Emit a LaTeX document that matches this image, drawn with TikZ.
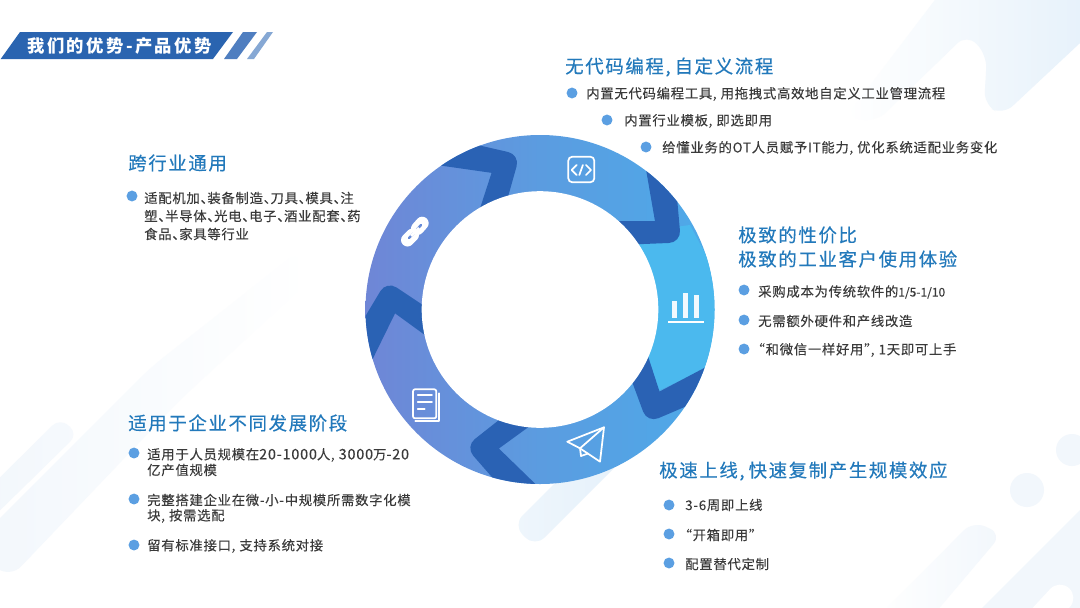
\documentclass[tikz,border=0pt]{standalone}
\usepackage{fontspec}
\setmainfont{Noto Sans CJK SC}
\newfontfamily\bodyfont[LetterSpace=5.6,FakeBold=0.15]{Noto Sans CJK SC}
\newfontfamily\numfont[FakeBold=0.15]{Noto Sans CJK SC}
\newfontfamily\ttlfont[LetterSpace=9,FakeBold=0.35]{Noto Sans CJK SC}
\newfontfamily\bannerfont[LetterSpace=14]{Noto Sans CJK SC}
\newcommand\cma{,\kern 3pt}
\newcommand\dun{、\kern-4.9pt}
\newcommand\lqm{\kern-5pt“}
\newcommand\rqm{”\kern-5pt}
\definecolor{ringA}{HTML}{6F86D6}
\definecolor{ringB}{HTML}{5B9CE0}
\definecolor{ringC}{HTML}{4DAAE9}
\definecolor{ringD}{HTML}{4BB9EE}
\definecolor{chev}{HTML}{2A62B4}
\definecolor{ttlblue}{HTML}{2279BB}
\definecolor{bodytxt}{HTML}{3A3A3A}
\definecolor{bulblue}{HTML}{5B9FE2}
\definecolor{pale}{HTML}{E4F0FA}
\definecolor{paleB}{HTML}{F2F7FC}
\definecolor{banA}{HTML}{2A64B0}
\definecolor{banB}{HTML}{4F7EC0}
\definecolor{banC}{HTML}{86A8D4}
\pgfdeclarehorizontalshading{ringgrad}{100bp}{color(0bp)=(ringA); color(25bp)=(ringA); color(50bp)=(ringB); color(75bp)=(ringC); color(100bp)=(ringC)}
\tikzset{
  body/.style={anchor=west,inner sep=0pt,yshift=-.75pt,text=bodytxt,font=\bodyfont\fontsize{10pt}{12pt}\selectfont},
  ttl/.style={anchor=west,inner sep=0pt,yshift=-.75pt,text=ttlblue,font=\ttlfont\fontsize{13.8pt}{16pt}\selectfont},
  bul/.style={circle,fill=bulblue,minimum size=8.2pt,inner sep=0pt},
  icon/.style={draw=white,line width=1.3pt,line join=round,line cap=round},
}
\begin{document}
\begin{tikzpicture}[x=.75pt,y=-.75pt]
\useasboundingbox (0,0) rectangle (1080,607);
\fill[white] (0,0) rectangle (1080,607);
\begin{scope}
\clip (0,0) rectangle (1080,607);
% top right
\shade[left color=white,right color=pale,rounded corners=10pt] (846,117) -- (950,-20) -- (1110,-20) -- (1110,15) -- (1003,115) -- (984,105) -- (987,55) -- (967,34) -- (876,122) -- cycle;
% bottom left
\shade[left color=paleB,right color=white,rounded corners=12pt] (-30,548) -- (150,368) -- (300,250) -- (310,280) -- (180,400) -- (10,578) -- cycle;
\shade[left color=paleB,right color=paleB!70!white,rounded corners=8pt] (-20,497) -- (60,418) -- (78,434) -- (-20,530) -- cycle;
% below the ring
\shade[left color=white!40!pale,right color=pale,rounded corners=10pt] (513,525) -- (613,425) -- (635,447) -- (535,547) -- cycle;
% bottom right
\shade[left color=white,right color=paleB,rounded corners=10pt] (870,625) -- (973,521) -- (1002,534) -- (925,625) -- cycle;
\fill[paleB] (975,615) -- (1090,500) -- (1090,615) -- cycle;
\draw[white,line width=20pt,line cap=round] (1035,625) -- (1060,598);
\fill[paleB] (1027,490) circle[radius=17];
\fill[paleB] (1072,450) circle[radius=16];
\end{scope}
% banner
\fill[banA] (0.7,59) -- (20,32) -- (233,32) -- (213,59) -- cycle;
\fill[banB] (224,59) -- (243,32) -- (257,32) -- (237,59) -- cycle;
\fill[banC] (247,59) -- (267,32) -- (273,32) -- (254,59) -- cycle;
\node[anchor=west,inner sep=0pt,text=white,font=\bannerfont\bfseries\fontsize{13pt}{14pt}\selectfont] (banner) at (27,46) {我们的优势-产品优势};
% ring
\shade[shading=ringgrad] (540,309.5) circle[radius=174.5];
\begin{scope}
\clip (540,309.5) circle[radius=174.5];
\fill[ringD] (615,235) -- (690,225) -- (730,300) -- (730,350) -- (702,370) -- (658,391) -- (648,362) -- (600,310) -- cycle;
\foreach \i in {0,...,4} {
  \begin{scope}[shift={(540,309.5)},rotate=-72*\i]
    \fill[chev] (115,-88.3) -- (103.7,-153.3) -- (133.3,-153.3) [rounded corners=9pt] -- (141,-67) -- (66,-64) [sharp corners] -- (66,-88.3) -- cycle;
  \end{scope}
}
\end{scope}
\fill[white] (540,309.5) circle[radius=118.3];
% code icon
\draw[icon,rounded corners=3pt] (568.3,156.7) rectangle (594.3,182.3);
\draw[icon] (576.7,165) -- (571.7,170) -- (576.7,175);
\draw[icon] (582.9,165) -- (579.3,175);
\draw[icon] (586,165) -- (591,170) -- (586,175);
% bars icon
\fill[white!92!ringD] (672.3,301) rectangle (677.3,318.3);
\fill[white!92!ringD] (683.3,293.3) rectangle (688.3,318.3);
\fill[white!92!ringD] (694.3,295) rectangle (699.3,318.3);
\draw[icon,line cap=butt] (668.3,321.7) -- (704,321.7);
% plane icon
\draw[icon] (567.3,441.7) -- (604,427.3) -- (600,461.7) -- (580,448.3) -- cycle;
\draw[icon] (604,427.3) -- (580,448.3) -- (581,456) -- (588,453.5);
% doc icon
\draw[icon,rounded corners=1.5pt] (413,389.3) rectangle (436.3,418.3);
\draw[icon] (438.9,393.3) -- (438.9,420.9) -- (415.3,420.9);
\draw[icon] (417.7,395) -- (432,395);
\draw[icon] (417.7,401.7) -- (432,401.7);
\draw[icon] (417.7,409) -- (424.7,409);
% link icon
\draw[white,line width=9.75pt,line cap=round] (407.5,240) -- (412.5,235);
\draw[white,line width=9.75pt,line cap=round] (417.5,228.5) -- (422.2,223.2);
\draw[ringA!70!ringB,line width=1.8pt,line cap=round] (409,238) -- (413.5,233.5);
\draw[ringA!70!ringB,line width=1.8pt,line cap=round] (417,229.5) -- (421,225);
\draw[white,line width=2pt] (411,236) -- (419,228);
% top list
\node[ttl] (t1) at (565,66) {无代码编程\cma 自定义流程};
\node[bul] (b11) at (572,93) {};
\node[body] (x11) at (586,93) {内置无代码编程工具\cma 用拖拽式高效地自定义工业管理流程};
\node[bul] (b12) at (607,120) {};
\node[body] (x12) at (624,120) {内置行业模板\cma 即选即用};
\node[bul] (b13) at (646,147) {};
\node[body] (x13) at (662,147) {给懂业务的OT人员赋予IT能力\cma 优化系统适配业务变化};
% right list
\node[ttl] (t2a) at (738,234) {极致的性价比};
\node[ttl] (t2b) at (738,258) {极致的工业客户使用体验};
\node[bul] (b21) at (744,290) {};
\node[body] (x21) at (758,291) {采购成本为传统软件的{\numfont\fontsize{9pt}{12pt}\selectfont 1/5-1/10}};
\node[bul] (b22) at (744,320) {};
\node[body] (x22) at (758,320) {无需额外硬件和产线改造};
\node[bul] (b23) at (744,349) {};
\node[body] (x23) at (758,349) {\lqm 和微信一样好用\rqm\cma 1天即可上手};
% bottom list
\node[ttl] (t3) at (659,470) {极速上线\cma 快速复制产生规模效应};
\node[bul] (b31) at (669,505) {};
\node[body] (x31) at (685,504) {3-6周即上线};
\node[bul] (b32) at (669,534) {};
\node[body] (x32) at (685,534) {\lqm 开箱即用\rqm};
\node[bul] (b33) at (669,563) {};
\node[body] (x33) at (685,563) {配置替代定制};
% bottom-left list
\node[ttl] (t4) at (128,422) {适用于企业不同发展阶段};
\node[bul] (b41) at (134,453) {};
\node[body] (x41a) at (147,454) {适用于人员规模在{\fontsize{10.8pt}{12pt}\selectfont 20-1000}人\cma {\fontsize{10.8pt}{12pt}\selectfont 3000}万{\fontsize{10.8pt}{12pt}\selectfont -20}};
\node[body] (x41b) at (147,469) {亿产值规模};
\node[bul] (b42) at (134,499) {};
\node[body] (x42a) at (147,499) {完整搭建企业在微-小-中规模所需数字化模};
\node[body] (x42b) at (147,515) {块\cma 按需选配};
\node[bul] (b43) at (134,545) {};
\node[body] (x43) at (147,545) {留有标准接口\cma 支持系统对接};
% top-left list
\node[ttl] (t5) at (128,162) {跨行业通用};
\node[bul] (b51) at (132,196) {};
\node[body] (x51a) at (144,197) {适配机加\dun 装备制造\dun 刀具\dun 模具\dun 注};
\node[body] (x51b) at (144,215) {塑\dun 半导体\dun 光电\dun 电子\dun 酒业配套\dun 药};
\node[body] (x51c) at (144,233) {食品\dun 家具等行业};
\end{tikzpicture}
\end{document}
